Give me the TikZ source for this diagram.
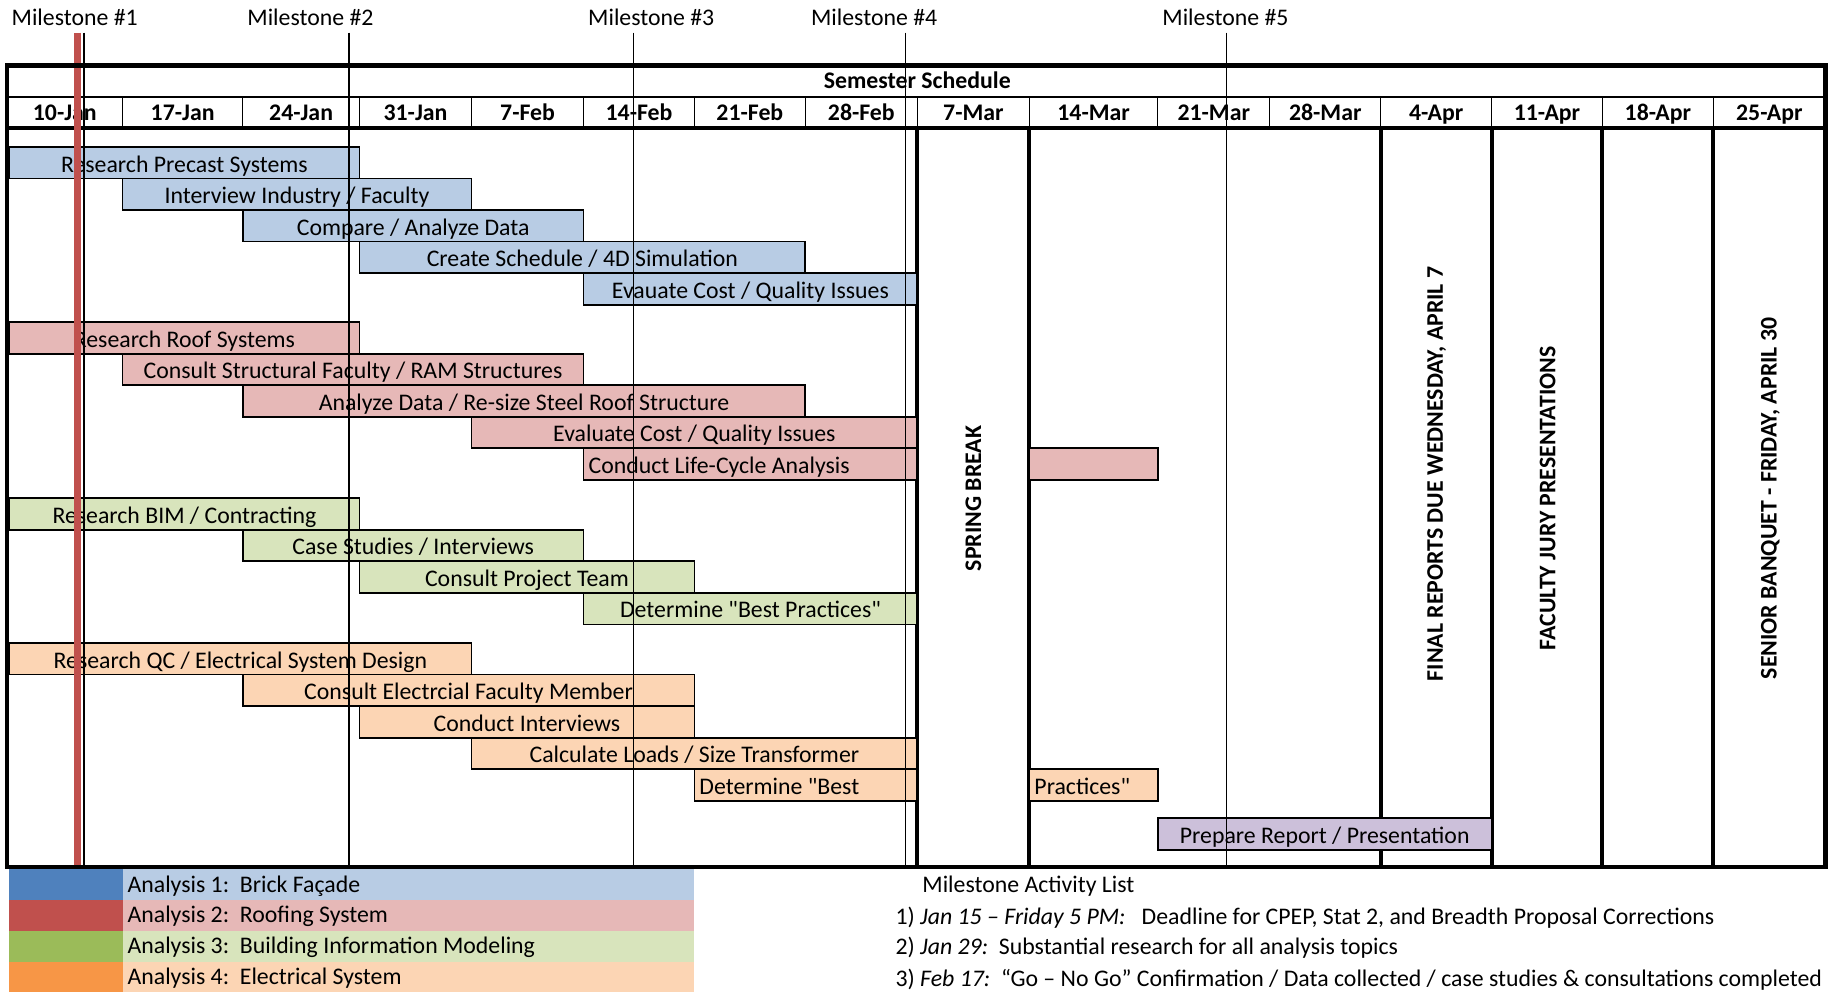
\documentclass[tikz,border=0pt]{standalone}
\usepackage{fontspec}
\setmainfont{Carlito}[Ligatures=TeXOff]
\usetikzlibrary{positioning}

\definecolor{facade}{HTML}{4F81BD}
\definecolor{facadelt}{HTML}{B8CCE4}
\definecolor{roof}{HTML}{C0504D}
\definecolor{rooflt}{HTML}{E6B8B7}
\definecolor{bim}{HTML}{9BBB59}
\definecolor{bimlt}{HTML}{D8E4BC}
\definecolor{elec}{HTML}{F79646}
\definecolor{eleclt}{HTML}{FCD5B4}
\definecolor{report}{HTML}{CCC0DA}

\tikzset{
  bartxt/.style={inner sep=0pt, font=\fontsize{11.9}{13}\selectfont},
  hdrtxt/.style={inner sep=0pt, anchor=base, font=\fontsize{11.9}{13}\selectfont\bfseries},
  vtxt/.style={rotate=90, inner sep=0pt, font=\fontsize{11.9}{13}\selectfont\bfseries},
  barbox/.style={draw=black, line width=0.9pt},
  heavy rule/.style={line width=2pt},
  thin rule/.style={line width=0.6pt},
}

% one bar: name, fill, from, to, top, text
\newcommand{\taskbar}[6]{%
  \draw[barbox, fill=#2] (#3,#5) rectangle (#4,#5+27);
  \node[bartxt, anchor=base] (#1) at ({(#3+#4)/2},#5+21.5) {#6};}
% same, text set from the left end
\newcommand{\taskbarL}[6]{%
  \draw[barbox, fill=#2] (#3,#5) rectangle (#4,#5+27);
  \node[bartxt, anchor=base west] (#1) at (#3+4,#5+21.5) {#6};}

\begin{document}
\begin{tikzpicture}[x=0.5836pt, y=-0.5836pt]
\useasboundingbox (0,0) rectangle (1568,850);

% header
\node[hdrtxt] (title) at (786,76) {Semester Schedule};
\draw[line width=0.8pt] (6,83) -- (1564,83);
\draw[heavy rule] (6,110) -- (1564,110);
\foreach \l/\r/\d [count=\i] in {6/105/10-Jan, 105/208/17-Jan, 208/308/24-Jan,
    308/404/31-Jan, 404/500/7-Feb, 500/595/14-Feb, 595/690/21-Feb,
    690/786/28-Feb, 786/882/7-Mar, 882/992/14-Mar, 992/1088/21-Mar,
    1088/1183/28-Mar, 1183/1278/4-Apr, 1278/1373/11-Apr, 1373/1468/18-Apr,
    1468/1564/25-Apr}{
  \node[hdrtxt] (d\i) at ({(\l+\r)/2},103.5) {\d};
  \draw[thin rule] (\r,83) -- (\r,110);
}

% fixed weeks
\foreach \x in {786,882,1183,1278,1373,1468}
  \draw[heavy rule] (\x,110) -- (\x,743);
\node[vtxt] (brk) at (834,427) {SPRING BREAK};
\node[vtxt] (final) at (1231,406) {FINAL REPORTS DUE WEDNESDAY, APRIL 7};
\node[vtxt] (jury) at (1326,427) {FACULTY JURY PRESENTATIONS};
\node[vtxt] (banq) at (1517,427) {SENIOR BANQUET - FRIDAY, APRIL 30};

% analysis 1
\taskbar{a1}{facadelt}{8}{308}{126}{Research Precast Systems}
\taskbar{a2}{facadelt}{105}{404}{153}{Interview Industry / Faculty}
\taskbar{a3}{facadelt}{208}{500}{180}{Compare / Analyze Data}
\taskbar{a4}{facadelt}{308}{690}{207}{Create Schedule / 4D Simulation}
\taskbar{a5}{facadelt}{500}{786}{234}{Evauate Cost / Quality Issues}
% analysis 2
\taskbar{b1}{rooflt}{8}{308}{276}{Research Roof Systems}
\taskbar{b2}{rooflt}{105}{500}{303}{Consult Structural Faculty / RAM Structures}
\taskbar{b3}{rooflt}{208}{690}{330}{Analyze Data / Re-size Steel Roof Structure}
\taskbar{b4}{rooflt}{404}{786}{357}{Evaluate Cost / Quality Issues}
\taskbarL{b5}{rooflt}{500}{786}{384}{Conduct Life-Cycle Analysis}
\draw[barbox, fill=rooflt] (882,384) rectangle (992,411);
% analysis 3
\taskbar{c1}{bimlt}{8}{308}{427}{Research BIM / Contracting}
\taskbar{c2}{bimlt}{208}{500}{454}{Case Studies / Interviews}
\taskbar{c3}{bimlt}{308}{595}{481}{Consult Project Team}
\taskbar{c4}{bimlt}{500}{786}{508}{Determine "Best Practices"}
% analysis 4
\taskbar{e1}{eleclt}{8}{404}{551}{Research QC / Electrical System Design}
\taskbar{e2}{eleclt}{208}{595}{578}{Consult Electrcial Faculty Member}
\taskbar{e3}{eleclt}{308}{595}{605}{Conduct Interviews}
\taskbar{e4}{eleclt}{404}{786}{632}{Calculate Loads / Size Transformer}
\taskbarL{e5}{eleclt}{595}{786}{659}{Determine "Best}
\taskbarL{e6}{eleclt}{882}{992}{659}{Practices"}
% report
\taskbar{rep}{report}{992}{1278}{701}{Prepare Report / Presentation}

% milestones
\foreach \x/\t/\n in {72/64/1, 299/266/2, 543/558/3, 776/749/4, 1051/1050/5}{
  \node[bartxt, anchor=base] (m\n) at (\t,21.5) {Milestone \#\n};
  \draw[thin rule] (\x,28) -- (\x,743);
}
\draw[roof, line width=3.5pt] (66,28) -- (66,743);

% outline
\draw[line width=2.2pt] (6,56) rectangle (1564,743);

% legend
\foreach \c/\cl/\t [count=\i] in {facade/facadelt/Brick Façade,
    roof/rooflt/Roofing System, bim/bimlt/Building Information Modeling,
    elec/eleclt/Electrical System}{
  \fill[\c] (8,745+26.3*\i-26.3) rectangle (105,745+26.3*\i);
  \fill[\cl] (105,745+26.3*\i-26.3) rectangle (595,745+26.3*\i);
  \node[bartxt, anchor=base west] (leg\i) at (109,745+26.3*\i-7) {Analysis \i:\ \ \t};
}

% milestone list
\node[bartxt, anchor=base west] (mlist) at (790,765) {Milestone Activity List};
\node[bartxt, anchor=base west] (ml1) at (767,792) {1) \textit{Jan 15 – Friday 5 PM:}\ \ \ Deadline for CPEP, Stat 2, and Breadth Proposal Corrections};
\node[bartxt, anchor=base west] (ml2) at (767,818) {2) \textit{Jan 29:}\ \ Substantial research for all analysis topics};
\node[bartxt, anchor=base west] (ml3) at (767,845) {3) \textit{Feb 17:}\ \ “Go – No Go” Confirmation / Data collected / case studies \& consultations completed};
\end{tikzpicture}
\end{document}
